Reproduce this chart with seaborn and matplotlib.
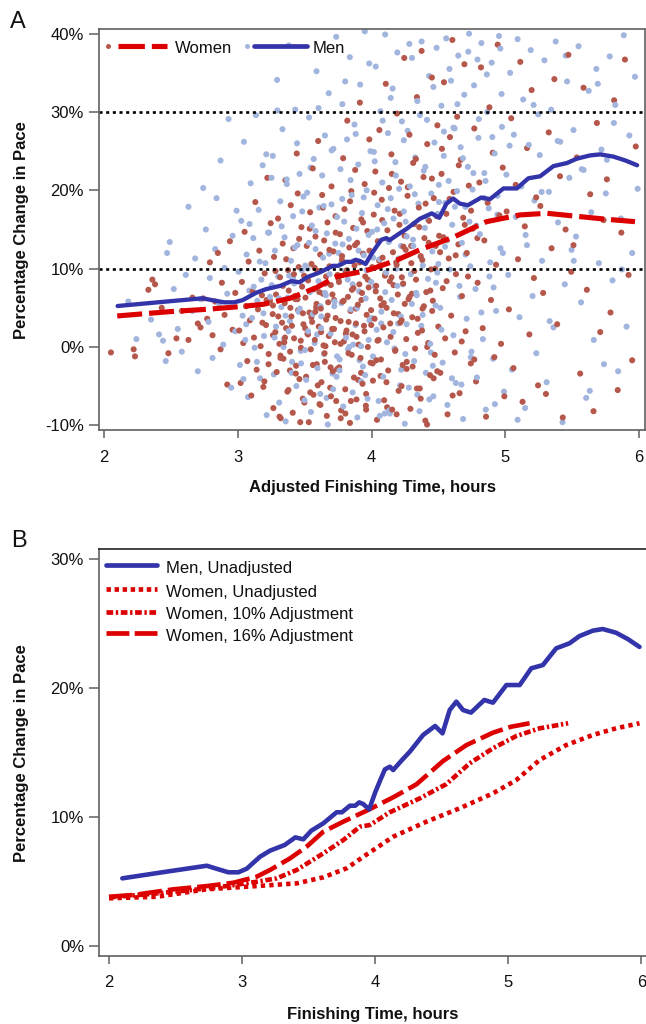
import matplotlib
matplotlib.use("Agg")
import matplotlib.pyplot as plt
from matplotlib.lines import Line2D
import pandas as pd
import seaborn as sns

# ---------------- data ----------------
# Panel A scatter, women (red points)
women_x = [2.05, 2.22, 2.23,
           2.33, 2.36, 2.38, 2.43, 2.48,
           2.54, 2.58, 2.63, 2.66, 2.70, 2.72, 2.74,
           2.77, 2.79, 2.81, 2.83, 2.85, 2.87, 2.88, 2.90, 2.92, 2.94, 2.96, 2.98,
           3.01, 3.02, 3.03, 3.04, 3.05, 3.06, 3.07, 3.08, 3.09, 3.10, 3.11, 3.12, 3.13, 3.14, 3.15, 3.16,
           3.17, 3.18, 3.19, 3.20, 3.21, 3.22, 3.23, 3.24, 3.245,
           3.26, 3.265, 3.27, 3.28, 3.285, 3.29, 3.30, 3.31, 3.315, 3.32, 3.33, 3.335, 3.34, 3.35, 3.355,
           3.36, 3.37, 3.375, 3.38, 3.39, 3.395, 3.40, 3.41, 3.415, 3.42, 3.43, 3.435, 3.44, 3.45, 3.455,
           3.46, 3.47, 3.475, 3.48, 3.485, 3.49, 3.495, 3.262, 3.318, 3.447,
           3.505, 3.51, 3.515, 3.52, 3.525, 3.53, 3.535, 3.54, 3.545, 3.55, 3.555, 3.56, 3.565, 3.57,
           3.575, 3.58, 3.585, 3.59, 3.595, 3.60, 3.605, 3.61, 3.615, 3.62, 3.625, 3.63, 3.635, 3.64,
           3.645, 3.65, 3.655, 3.66, 3.665, 3.67, 3.675, 3.68, 3.685, 3.69, 3.695, 3.70, 3.705, 3.71,
           3.715, 3.72, 3.725, 3.73, 3.735, 3.745,
           3.752, 3.757, 3.763, 3.768, 3.772, 3.778, 3.783, 3.787, 3.792, 3.797,
           3.803, 3.808, 3.812, 3.818, 3.823, 3.827, 3.833, 3.838, 3.842, 3.848,
           3.853, 3.857, 3.862, 3.868, 3.872, 3.877, 3.883, 3.887, 3.892, 3.897,
           3.903, 3.908, 3.912, 3.917, 3.923, 3.928, 3.932, 3.937, 3.943, 3.948,
           3.952, 3.957, 3.963, 3.968, 3.972, 3.978, 3.983, 3.992,
           4.004, 4.010, 4.016, 4.022, 4.028, 4.034, 4.040, 4.046, 4.052, 4.058,
           4.064, 4.070, 4.076, 4.082, 4.088, 4.094, 4.100, 4.106, 4.112, 4.118,
           4.124, 4.130, 4.136, 4.142, 4.148, 4.154, 4.160, 4.166, 4.172, 4.178,
           4.184, 4.190, 4.196, 4.202, 4.208, 4.214, 4.220, 4.226, 4.232, 4.238,
           4.244, 4.248,
           4.255, 4.262, 4.269, 4.276, 4.283, 4.290, 4.297, 4.304, 4.311, 4.318,
           4.325, 4.332, 4.339, 4.346, 4.353, 4.360, 4.367, 4.374, 4.381, 4.388,
           4.395, 4.402, 4.409, 4.416, 4.423, 4.430, 4.437, 4.444, 4.451, 4.458,
           4.465, 4.472, 4.479, 4.492,
           4.505, 4.514, 4.523, 4.532, 4.541, 4.550, 4.559, 4.568, 4.577, 4.586,
           4.595, 4.604, 4.613, 4.622, 4.631, 4.640, 4.649, 4.658, 4.667, 4.676,
           4.685, 4.694, 4.703, 4.712, 4.727, 4.742,
           4.756, 4.768, 4.781, 4.793, 4.806, 4.818, 4.831, 4.843, 4.856, 4.868,
           4.881, 4.893, 4.906, 4.918, 4.931, 4.943, 4.956, 4.968, 4.981, 4.993,
           5.010, 5.027, 5.044, 5.061, 5.078, 5.095, 5.112, 5.129, 5.146, 5.163,
           5.180, 5.197, 5.214, 5.231, 5.245,
           5.262, 5.283, 5.304, 5.325, 5.346, 5.367, 5.388, 5.409, 5.430, 5.451, 5.472, 5.493,
           5.510, 5.535, 5.560, 5.585, 5.610, 5.635, 5.660, 5.685, 5.710, 5.735,
           5.760, 5.787, 5.814, 5.841, 5.868, 5.895, 5.922, 5.949, 5.976]
women_y = [-0.7, -0.3, -1.2,
           7.3, 8.6, 8.0, 5.0, -0.8,
           1.1, 4.6, 0.9, 6.3, 3.0, 2.5, 6.2,
           3.6, 10.8, 1.5, 5.8, 12.0, -0.3, 8.2, 4.1, -4.8, 13.5, 2.2, 6.9,
           2.1, -4.6, 8.3, 0.5, 14.7, 5.2, -1.8, 10.9, 3.4, -6.2, 7.1, 1.2, 18.5, -2.9, 4.8, 12.3,
           0.1, 6.6, -5.1, 9.4, 2.8, 21.6, -0.9, 5.9, 15.8,
           4.2, -7.8, 11.5, 1.9, 6.7, -3.2, 16.4, 0.4, 8.9, -9.1, 3.1, 13.2, -1.5, 5.6, 21.3,
           2.4, -5.7, 9.8, 7.2, -0.6, 18.1, 3.9, -8.4, 12.6, 1.1, 6.1, -2.4, 24.7, 4.7, 10.2,
           -4.1, 0.8, 15.3, 7.7, -6.6, 2.9, 9.1, 5.3, -1.1, 19.6,
           6.3, -3.8, 12.9, 1.7, 8.5, -9.6, 4.4, 17.2, -0.3, 10.6, 3.2, 22.8, -6.1, 7.4,
           0.9, 14.1, 5.1, -2.2, 9.7, 26.3, 2.6, -7.3, 11.8, 4.9, -4.5, 19.4, 6.8, 0.2,
           13.6, -1.9, 8.1, 3.5, -8.8, 15.9, 5.7, 1.4, 10.3, -5.2, 7.9, 20.5, 2.3, -3.1,
           12.2, 6.0, 0.6, 16.7, -6.9, 9.2,
           8.7, -2.6, 14.4, 3.3, -8.1, 11.1, 5.8, 24.1, 0.7, 17.6,
           -5.4, 9.5, 2.1, 28.9, 6.4, -0.8, 12.7, -9.7, 4.6, 19.9,
           7.3, 1.6, 15.2, -3.9, 10.4, 22.6, 3.0, -6.7, 13.3, 5.4,
           0.3, 8.0, 31.2, -1.4, 16.3, 6.9, -4.7, 11.9, 2.7, 20.8,
           9.0, -7.5, 4.1, 14.8, 0.0, 7.6, 26.5, -2.0,
           10.2, -4.3, 16.9, 3.6, 22.4, 7.8, -9.3, 13.5, 0.9, 27.7,
           6.2, -1.6, 18.8, 11.4, 2.5, -6.8, 9.1, 33.6, 5.0, 14.9,
           -3.0, 20.3, 8.4, 1.3, 24.6, -8.0, 12.1, 4.3, 17.4, -0.4,
           10.8, 29.8, 6.7, -5.6, 15.6, 3.1, 21.1, 8.9, -2.3, 12.8,
           36.9, 5.5,
           12.4, -2.8, 19.3, 6.1, 27.1, -7.9, 10.7, 3.8, 23.5, 15.7,
           -0.2, 8.6, 31.9, 1.8, 17.8, -5.3, 11.6, 37.8, 4.9, 21.7,
           13.9, -9.4, 7.0, 25.9, 0.5, 16.1, -3.6, 9.9, 34.4, 5.9,
           19.0, -1.0, 12.9, 28.3,
           14.2, -3.3, 22.1, 7.5, 33.8, 1.1, 17.0, -8.6, 11.3, 26.8,
           4.0, 39.2, 19.8, -0.7, 9.3, 29.4, 13.1, -5.9, 23.9, 6.5,
           16.5, 36.1, 2.0, 12.0, 20.6, -2.1,
           15.1, 27.9, -4.4, 8.2, 21.0, 35.7, 2.4, 13.6, -8.9, 18.4,
           30.6, 6.0, 24.8, -1.3, 10.5, 38.6, 16.8, 0.4, 22.9, -6.3,
           17.3, 4.8, 29.2, -2.7, 20.7, 11.2, 36.4, -7.0, 15.4, 25.4,
           1.6, 32.8, 8.8, 19.1, -4.9,
           18.0, 6.9, -6.0, 27.4, 12.6, 34.2, 2.9, 21.8, -9.0, 15.0, 37.3, 9.6,
           13.0, 24.2, -3.4, 33.1, 7.3, 19.5, -8.2, 28.6, 1.9, 16.2,
           21.4, 4.4, 31.5, -5.5, 14.6, 36.7, 9.2, -1.7, 25.6]

# extra women points in the dense core of the cloud
women_core_x = [3.302, 3.318, 3.336, 3.347, 3.361, 3.378, 3.392, 3.404, 3.419, 3.433,
                3.446, 3.458, 3.471, 3.486, 3.497, 3.512, 3.524, 3.537, 3.549, 3.561,
                3.574, 3.588, 3.597, 3.609, 3.622, 3.636, 3.648, 3.659, 3.671, 3.684,
                3.696, 3.707, 3.719, 3.731, 3.743, 3.756, 3.768, 3.779, 3.791, 3.804,
                3.816, 3.828, 3.839, 3.851, 3.864, 3.876, 3.887, 3.899, 3.911, 3.924,
                3.936, 3.947, 3.959, 3.971, 3.984, 3.996, 4.008, 4.019, 4.031, 4.044,
                4.056, 4.067, 4.079, 4.091, 4.104, 4.116, 4.127, 4.139, 4.151, 4.164,
                4.176, 4.187, 4.199, 4.211, 4.224, 4.236, 4.247, 4.259, 4.271, 4.284,
                4.296, 4.307, 4.319, 4.331, 4.344, 4.356, 4.367, 4.379, 4.391, 4.404,
                4.416, 4.427, 4.439, 4.451, 4.464, 4.476, 4.487, 4.499, 4.512, 4.526,
                3.311, 3.352, 3.389, 3.427, 3.466, 3.503, 3.541, 3.579, 3.617, 3.655,
                3.693, 3.731, 3.769, 3.807, 3.845, 3.883, 3.921, 3.959, 3.997, 4.035,
                4.073, 4.111, 4.149, 4.187, 4.225, 4.263, 4.301, 4.339, 4.377, 4.415,
                4.453, 4.491, 4.538, 4.561, 4.583, 4.606, 4.629, 4.652, 4.674, 4.697,
                3.262, 3.281, 3.229, 3.214, 3.198, 3.183, 4.721, 4.744, 4.768, 4.791]
women_core_y = [3.9, -1.4, 7.8, 0.6, 11.2, -5.5, 5.0, 2.7, 9.3, -3.4,
                6.1, 13.8, -0.1, 4.3, -7.1, 8.8, 1.6, 15.1, 3.8, -2.3,
                10.1, 5.5, -4.9, 7.0, 1.9, 17.8, -0.8, 9.0, 4.0, 12.4,
                -6.3, 6.7, 2.3, 14.6, -2.8, 8.3, 0.4, 11.6, 5.9, -8.5,
                9.8, 3.2, 18.6, -1.0, 7.5, 13.0, 1.3, -4.2, 10.8, 6.0,
                15.9, 2.0, -6.0, 8.6, 12.3, 4.7, -2.1, 19.7, 7.1, 0.8,
                11.0, -3.7, 16.2, 5.6, 9.4, -7.7, 13.6, 3.0, 22.1, 7.9,
                -0.5, 10.5, 4.2, 17.0, -5.0, 8.1, 14.2, 1.0, 20.4, 6.4,
                12.9, -2.5, 9.7, 24.0, 3.6, 15.3, -6.6, 11.1, 5.2, 18.3,
                0.0, 13.3, 7.2, 21.5, -4.0, 10.0, 16.7, 2.6, 12.1, 25.3,
                -8.9, 1.2, -3.0, 6.5, -9.6, 2.4, -5.8, 4.5, -7.4, 0.1,
                -2.6, 3.7, -9.1, 1.7, -6.9, 4.9, -3.3, -8.0, 2.8, -1.7,
                5.3, -4.5, 8.9, -8.6, 3.4, -1.9, 6.8, -5.3, 2.1, -9.9,
                4.6, -3.1, 14.0, 8.4, 18.9, -6.2, 11.7, 23.2, 0.7, 15.6,
                1.5, 9.7, -2.2, 6.0, -4.4, 3.1, 9.0, 17.4, -1.6, 13.9]

# Panel A scatter, men (blue points)
men_x = [2.18, 2.24,
         2.35, 2.41, 2.44, 2.46, 2.47, 2.49,
         2.52, 2.55, 2.58, 2.61, 2.63, 2.66, 2.68, 2.70, 2.72, 2.74,
         2.76, 2.78, 2.79, 2.81, 2.83, 2.84, 2.86, 2.87, 2.89, 2.90, 2.92, 2.93, 2.95, 2.96, 2.98, 2.99,
         3.005, 3.015, 3.025, 3.035, 3.045, 3.055, 3.065, 3.075, 3.085, 3.095,
         3.105, 3.115, 3.125, 3.135, 3.145, 3.155, 3.165, 3.175, 3.185, 3.195,
         3.205, 3.215, 3.225, 3.240,
         3.253, 3.261, 3.269, 3.277, 3.285, 3.293, 3.301, 3.309, 3.317, 3.325,
         3.333, 3.341, 3.349, 3.357, 3.365, 3.373, 3.381, 3.389, 3.397, 3.405,
         3.413, 3.421, 3.429, 3.437, 3.445, 3.453, 3.461, 3.469, 3.477, 3.490,
         3.504, 3.511, 3.518, 3.525, 3.532, 3.539, 3.546, 3.553, 3.560, 3.567,
         3.574, 3.581, 3.588, 3.595, 3.602, 3.609, 3.616, 3.623, 3.630, 3.637,
         3.644, 3.651, 3.658, 3.665, 3.672, 3.679, 3.686, 3.693, 3.700, 3.707,
         3.714, 3.721, 3.728, 3.735, 3.742, 3.748,
         3.753, 3.760, 3.767, 3.774, 3.781, 3.788, 3.795, 3.802, 3.809, 3.816,
         3.823, 3.830, 3.837, 3.844, 3.851, 3.858, 3.865, 3.872, 3.879, 3.886,
         3.893, 3.900, 3.907, 3.914, 3.921, 3.928, 3.935, 3.942, 3.949, 3.956,
         3.963, 3.970, 3.977, 3.984, 3.991, 3.997, 3.780, 3.910,
         4.003, 4.010, 4.017, 4.024, 4.031, 4.038, 4.045, 4.052, 4.059, 4.066,
         4.073, 4.080, 4.087, 4.094, 4.101, 4.108, 4.115, 4.122, 4.129, 4.136,
         4.143, 4.150, 4.157, 4.164, 4.171, 4.178, 4.185, 4.192, 4.199, 4.206,
         4.213, 4.220, 4.227, 4.234, 4.241, 4.248,
         4.254, 4.262, 4.270, 4.278, 4.286, 4.294, 4.302, 4.310, 4.318, 4.326,
         4.334, 4.342, 4.350, 4.358, 4.366, 4.374, 4.382, 4.390, 4.398, 4.406,
         4.414, 4.422, 4.430, 4.438, 4.446, 4.454, 4.462, 4.470, 4.478, 4.486,
         4.494, 4.499,
         4.504, 4.513, 4.522, 4.531, 4.540, 4.549, 4.558, 4.567, 4.576, 4.585,
         4.594, 4.603, 4.612, 4.621, 4.630, 4.639, 4.648, 4.657, 4.666, 4.675,
         4.684, 4.693, 4.702, 4.711, 4.720, 4.729, 4.738, 4.747,
         4.755, 4.766, 4.777, 4.788, 4.799, 4.810, 4.821, 4.832, 4.843, 4.854,
         4.865, 4.876, 4.887, 4.898, 4.909, 4.920, 4.931, 4.942, 4.953, 4.964,
         4.975, 4.990,
         5.008, 5.022, 5.036, 5.050, 5.064, 5.078, 5.092, 5.106, 5.120, 5.134,
         5.148, 5.162, 5.176, 5.190, 5.204, 5.218, 5.232, 5.246,
         5.258, 5.275, 5.292, 5.309, 5.326, 5.343, 5.360, 5.377, 5.394, 5.411,
         5.428, 5.445, 5.462, 5.479, 5.496,
         5.510, 5.529, 5.548, 5.567, 5.586, 5.605, 5.624, 5.643, 5.662, 5.681,
         5.700, 5.719, 5.738,
         5.760, 5.781, 5.802, 5.823, 5.844, 5.865, 5.886, 5.907, 5.928, 5.949, 5.970, 5.990]
men_y = [5.8, 1.0,
         3.5, 1.6, 0.8, -1.8, 12.0, 13.4,
         7.4, 2.3, -0.6, 9.2, 17.9, 4.6, 11.3, -3.1, 6.1, 20.3,
         15.0, 3.2, 8.8, -1.4, 12.5, 19.0, 5.5, 23.8, 0.3, 10.1, 6.8, 29.1, -5.2, 14.2, 2.0, 17.4,
         9.6, -2.3, 16.1, 4.0, 26.2, 0.9, 11.8, -6.4, 7.2, 20.9,
         3.7, 13.9, -0.1, 29.6, 5.9, 17.5, -4.0, 8.6, 23.2, 1.4,
         10.7, -8.7, 14.6, 6.4,
         7.9, 24.4, -3.5, 12.3, 2.6, 34.1, 9.0, -7.1, 18.6, 5.1,
         27.8, 0.0, 14.0, -9.5, 21.4, 6.3, 38.5, 3.3, 11.0, -1.9,
         16.7, 8.1, 30.3, -5.0, 13.0, 4.5, 22.1, -0.5, 9.8, 19.2,
         10.4, -4.2, 19.7, 2.0, 29.3, 7.0, -8.3, 15.5, 4.2, 24.0,
         0.5, 12.5, 35.2, -2.7, 8.4, 17.8, -6.0, 3.9, 21.9, 11.4,
         -0.9, 27.0, 6.6, 14.5, -9.9, 32.4, 9.3, 1.7, 18.2, -3.4,
         25.3, 5.2, 13.2, 39.6, -1.2, 8.9,
         12.0, -3.0, 22.7, 5.6, 31.0, -7.6, 16.0, 9.7, 1.2, 26.5,
         -0.3, 13.8, 37.0, 4.8, 19.4, -5.8, 10.9, 28.4, 2.8, 15.1,
         -9.0, 23.3, 7.1, 33.5, 0.1, 17.1, -2.5, 11.7, 40.3, 6.2,
         20.0, -6.6, 14.3, 3.4, 25.0, 8.3, 18.9, -1.7,
         14.7, -1.2, 24.9, 7.7, 35.8, 2.2, 18.1, -6.9, 11.2, 30.1,
         4.5, 21.0, -3.8, 15.8, 39.9, 9.5, 0.6, 27.3, 13.4, -8.5,
         19.0, 6.0, 33.0, 16.4, -0.2, 23.6, 10.0, 37.6, 3.0, 20.2,
         -4.9, 12.9, 28.8, 8.0, 17.3, -9.8,
         16.0, 2.9, 27.6, -5.2, 20.5, 9.3, 36.9, 13.7, -1.8, 24.2,
         6.9, 31.4, 18.3, -8.2, 11.5, 39.0, 4.1, 22.5, 15.2, -3.3,
         29.0, 8.7, 34.6, 0.4, 19.6, 12.2, -6.3, 26.1, 5.3, 38.2,
         17.0, 10.6,
         18.5, 5.0, 30.8, -2.0, 24.4, 12.8, 39.4, -7.4, 21.2, 9.9,
         34.0, 15.6, 1.5, 27.9, -4.6, 19.9, 37.2, 7.8, 25.5, 13.3,
         -9.2, 32.2, 17.9, 3.6, 23.0, 40.0, 10.3, -0.6,
         20.1, 33.4, 7.4, -3.9, 26.7, 14.4, 38.8, 1.0, 22.2, -8.0,
         30.0, 17.7, 10.8, 36.3, -1.5, 24.7, 4.6, 19.3, 39.7, 12.6,
         28.1, -5.7,
         22.0, 9.2, 35.0, -2.9, 27.1, 16.6, 39.3, 3.8, 20.5, 31.6,
         -7.8, 13.0, 25.8, 37.9, 6.5, 18.7, -0.8, 29.7,
         24.5, 11.0, 36.6, -4.5, 19.8, 30.3, 2.5, 39.0, 15.9, 26.2,
         -9.6, 8.0, 33.9, 21.6, 12.4,
         27.7, 14.1, 38.4, 5.7, 22.6, -6.5, 32.7, 17.2, 0.9, 35.5,
         10.7, 25.2, -2.2,
         23.9, 37.1, 8.5, 30.9, -3.1, 16.4, 39.8, 2.6, 27.0, 12.0, 34.5, 20.2]

# extra men points in the dense core of the cloud
men_core_x = [3.306, 3.327, 3.344, 3.366, 3.383, 3.401, 3.424, 3.442, 3.463, 3.481,
              3.502, 3.521, 3.543, 3.562, 3.581, 3.603, 3.622, 3.641, 3.663, 3.682,
              3.701, 3.723, 3.742, 3.761, 3.783, 3.802, 3.821, 3.843, 3.862, 3.881,
              3.903, 3.922, 3.941, 3.963, 3.982, 4.001, 4.023, 4.042, 4.061, 4.083,
              4.102, 4.121, 4.143, 4.162, 4.181, 4.203, 4.222, 4.241, 4.263, 4.282,
              4.301, 4.323, 4.342, 4.361, 4.383, 4.402, 4.421, 4.443, 4.462, 4.481,
              4.503, 4.522, 4.541, 4.563, 4.582, 4.601, 4.623, 4.642, 4.661, 4.683,
              4.702, 4.723, 4.742, 4.761, 4.783, 4.802, 4.821, 4.843, 4.862, 4.881,
              4.903, 4.922, 4.941, 4.963, 4.982, 3.251, 3.274, 3.295, 3.233, 3.212,
              3.356, 3.412, 3.472, 3.532, 3.592, 3.652, 3.712, 3.772, 3.832, 3.892,
              3.952, 4.012, 4.072, 4.132, 4.192, 4.252, 4.312, 4.372, 4.432, 4.492,
              4.552, 4.612, 4.672, 4.732, 4.792, 4.852, 4.912, 4.972, 5.032, 5.092,
              5.152, 5.212, 5.272, 5.332, 5.392, 5.452, 5.512, 5.572, 5.632, 5.692,
              3.191, 3.163, 3.142, 3.118, 3.087, 3.062, 3.041, 5.752, 5.812, 5.872,
              3.378, 3.498, 3.618, 3.738, 3.858, 3.978, 4.098, 4.218, 4.338, 4.458]
men_core_y = [6.2, 15.4, 1.0, 20.8, 9.1, -3.3, 12.7, 26.0, 4.9, 17.3,
              -0.4, 10.0, 22.9, 7.3, 14.8, 30.5, 2.4, 18.0, -6.5, 11.9,
              25.1, 5.8, 16.6, -1.6, 13.1, 33.9, 8.6, 21.3, 0.3, 27.2,
              12.3, -4.4, 19.1, 9.8, 36.2, 3.7, 23.7, 15.0, -8.8, 28.9,
              7.0, 17.6, 31.8, 1.9, 21.9, 11.3, -2.9, 26.4, 14.1, 38.7,
              5.5, 19.5, -6.1, 29.6, 10.4, 23.0, 16.3, -0.7, 33.2, 8.2,
              20.7, 2.2, 27.5, 13.6, 35.5, -4.0, 17.9, 31.0, 6.4, 24.1,
              11.8, 37.7, -1.3, 22.2, 15.5, 29.1, 4.4, 19.0, 34.8, 9.0,
              26.8, -7.3, 16.9, 38.1, 12.0, 21.6, 1.2, 30.2, 14.6, 24.6,
              4.0, 8.8, -2.1, 13.3, 1.6, 6.9, -5.4, 10.7, 0.0, 5.0,
              -3.6, 11.4, 3.0, -8.1, 7.8, -0.9, 12.9, 2.7, -6.7, 9.5,
              18.4, 28.0, -4.8, 16.0, 36.7, 21.2, 7.6, 32.3, 25.7, -9.3,
              14.3, 30.9, 19.8, 3.3, 26.3, 37.2, 11.0, 22.7, -5.6, 33.6,
              4.3, 10.9, -1.9, 7.7, 15.7, 2.9, -4.1, 19.6, 28.6, 9.9,
              2.0, -6.8, 5.2, -3.8, 8.0, 0.9, -8.5, 3.9, 6.6, -2.4]

# Smoothed curves
men_hours = [2.10, 2.40, 2.735, 2.80, 2.897, 2.972, 3.035, 3.135, 3.21, 3.32, 3.40, 3.46,
             3.52, 3.61, 3.71, 3.75, 3.81, 3.85, 3.88, 3.91, 3.955, 4.00, 4.04, 4.073,
             4.11, 4.135, 4.20, 4.26, 4.36, 4.45, 4.506, 4.56, 4.61, 4.66, 4.72, 4.82,
             4.885, 4.986, 5.086, 5.173, 5.26, 5.36, 5.46, 5.535, 5.635, 5.71, 5.81, 5.90, 5.986]
men_pct = [5.23, 5.70, 6.21, 6.00, 5.70, 5.70, 5.98, 6.91, 7.38, 7.82, 8.41, 8.26,
           8.93, 9.50, 10.36, 10.36, 10.87, 10.87, 11.13, 11.00, 10.59, 11.90, 12.90, 13.69,
           13.90, 13.64, 14.40, 15.06, 16.36, 17.06, 16.49, 18.30, 18.95, 18.30, 18.10, 19.08,
           18.87, 20.24, 20.24, 21.54, 21.79, 23.09, 23.48, 24.04, 24.46, 24.59, 24.30, 23.80, 23.20]

women_adj_hours = [2.097, 2.49, 2.766, 3.015, 3.19, 3.39, 3.59, 3.74, 3.89, 3.99,
                   4.19, 4.36, 4.61, 4.86, 5.11, 5.31, 5.56, 5.76, 5.97]
women_adj_pct = [3.96, 4.51, 4.81, 5.15, 5.45, 6.22, 7.60, 9.00, 9.50, 9.90,
                 11.10, 12.40, 14.00, 16.00, 16.86, 17.07, 16.64, 16.30, 16.00]

w_unadj_hours = [2.00, 2.36, 2.735, 3.11, 3.41, 3.61, 3.785, 3.93, 4.135, 4.385,
                 4.635, 4.885, 5.06, 5.236, 5.436, 5.635, 5.81, 5.986]
w_unadj_pct = [3.68, 3.80, 4.38, 4.63, 4.84, 5.31, 6.01, 7.04, 8.46, 9.63,
               10.67, 11.83, 12.86, 14.42, 15.58, 16.36, 16.88, 17.27]

w10_hours = [2.00, 2.30, 2.60, 2.90, 3.10, 3.26, 3.41, 3.61, 3.76, 3.885, 3.96,
             4.11, 4.335, 4.535, 4.71, 4.885, 5.06, 5.236, 5.45]
w10_pct = [3.75, 4.00, 4.30, 4.65, 4.95, 5.23, 5.88, 7.17, 8.20, 9.24, 9.37,
           10.36, 11.44, 12.55, 14.16, 15.33, 16.28, 16.88, 17.27]

w16_hours = [2.00, 2.185, 2.485, 2.735, 2.935, 3.11, 3.21, 3.36, 3.485, 3.61, 3.76,
             3.947, 4.135, 4.31, 4.51, 4.686, 4.885, 5.02, 5.16]
w16_pct = [3.80, 3.94, 4.38, 4.63, 4.89, 5.36, 5.88, 6.78, 7.69, 8.85, 9.63,
           10.54, 11.52, 12.53, 14.34, 15.58, 16.54, 17.00, 17.27]

x_ticks = [2, 3, 4, 5, 6]
x_ticklabels = ["2", "3", "4", "5", "6"]
a_yticks = [-10, 0, 10, 20, 30, 40]
a_yticklabels = ["-10%", "0%", "10%", "20%", "30%", "40%"]
b_yticks = [0, 10, 20, 30]
b_yticklabels = ["0%", "10%", "20%", "30%"]
ref_levels = [10, 30]
legend_a_labels = ["Women", "Men"]
legend_b_labels = ["Men, Unadjusted", "Women, Unadjusted",
                   "Women, 10% Adjustment", "Women, 16% Adjustment"]

# ---------------- style ----------------
sns.set_theme(style="white")
plt.rcParams["font.family"] = ["Liberation Sans", "DejaVu Sans"]
plt.rcParams["lines.scale_dashes"] = False

MEN = "#3434AA"
RED = "#DC0000"
RED_PT = "#B5574B"
BLUE_PT = "#A1B5DE"
SPINE = "#606060"

DASH_A = (18.0, 5.0)
DOTTED = (3.1, 3.0)
DASHDOT = (4.8, 1.9, 1.7, 1.9)
DASHED_B = (17.0, 4.3)

W, H = 646, 1024
fig = plt.figure(figsize=(W / 100, H / 100), dpi=100)
fig.patch.set_facecolor("white")


def fx(px):
    return px / W


def fy(py):
    return 1 - py / H


def rect(l, t, r, b):
    return [fx(l), fy(b), (r - l) / W, (b - t) / H]


axA = fig.add_axes(rect(99.3, 29.3, 645.0, 430.3))
axB = fig.add_axes(rect(99.3, 549.3, 646.0, 956.0))

# ---------------- panel A ----------------
all_w_x = women_x + women_core_x
all_w_y = women_y + women_core_y
all_m_x = men_x + men_core_x
all_m_y = men_y + men_core_y
scatter_df = pd.DataFrame({
    "hours": all_w_x + all_m_x,
    "pct": all_w_y + all_m_y,
    "group": ["Women"] * len(all_w_x) + ["Men"] * len(all_m_x),
}).sort_values("hours", kind="mergesort")
sns.scatterplot(data=scatter_df, x="hours", y="pct", hue="group",
                palette={"Women": RED_PT, "Men": BLUE_PT}, s=19, linewidth=0,
                legend=False, ax=axA, zorder=1)

for lvl in ref_levels:
    axA.axhline(lvl, color="black", lw=1.9, dashes=(2.2, 2.6), zorder=2)

sns.lineplot(x=women_adj_hours, y=women_adj_pct, ax=axA, color=RED, lw=3.7,
             estimator=None, sort=False, zorder=3)
axA.lines[-1].set_dashes(DASH_A)
sns.lineplot(x=men_hours, y=men_pct, ax=axA, color=MEN, lw=3.1,
             estimator=None, sort=False, zorder=4)

axA.set_xlim(1.963, 6.045)
axA.set_ylim(-10.64, 40.56)
axA.set_yticks(a_yticks)
axA.set_yticklabels(a_yticklabels)
axA.set_xlabel("Adjusted Finishing Time, hours", fontsize=12, fontweight="bold")
axA.set_ylabel("Percentage Change in Pace", fontsize=12, fontweight="bold")
axA.xaxis.set_label_coords(0.5, -0.124)
axA.yaxis.set_label_coords(-0.1297, 0.5)

# ---------------- panel B ----------------
sns.lineplot(x=w_unadj_hours, y=w_unadj_pct, ax=axB, color=RED, lw=3.3,
             estimator=None, sort=False)
axB.lines[-1].set_dashes(DOTTED)
sns.lineplot(x=w10_hours, y=w10_pct, ax=axB, color=RED, lw=3.3,
             estimator=None, sort=False)
axB.lines[-1].set_dashes(DASHDOT)
sns.lineplot(x=w16_hours, y=w16_pct, ax=axB, color=RED, lw=3.3,
             estimator=None, sort=False)
axB.lines[-1].set_dashes(DASHED_B)
sns.lineplot(x=men_hours, y=men_pct, ax=axB, color=MEN, lw=3.3,
             estimator=None, sort=False)

axB.set_xlim(1.927, 6.035)
axB.set_ylim(-0.80, 30.78)
axB.set_yticks(b_yticks)
axB.set_yticklabels(b_yticklabels)
axB.set_xlabel("Finishing Time, hours", fontsize=12, fontweight="bold")
axB.set_ylabel("Percentage Change in Pace", fontsize=12, fontweight="bold")
axB.xaxis.set_label_coords(0.5, -0.1254)
axB.yaxis.set_label_coords(-0.1295, 0.5)

# ---------------- shared axis styling ----------------
for ax in (axA, axB):
    ax.set_xticks(x_ticks)
    ax.set_xticklabels(x_ticklabels)
    ax.tick_params(axis="y", which="both", left=True, right=False, direction="out",
                   length=7, width=1.1, color=SPINE, pad=4, labelsize=12, labelcolor="#111111")
    ax.tick_params(axis="x", which="both", bottom=True, top=False, direction="out",
                   length=6, width=1.1, color=SPINE, pad=8, labelsize=12, labelcolor="#111111")
    for side in ("left", "bottom", "top", "right"):
        ax.spines[side].set_color(SPINE)
        ax.spines[side].set_linewidth(1.2)
    ax.xaxis.label.set_color("#111111")
    ax.yaxis.label.set_color("#111111")
    ax.grid(False)
axB.spines["right"].set_visible(False)
axB.spines["top"].set_color("#222222")

# ---------------- legends (drawn as figure artists) ----------------
yA = 45.5
fig.add_artist(Line2D([fx(108)], [fy(yA)], marker="o", ms=3.6, mec="none",
                      mfc=RED_PT, ls="none"))
fig.add_artist(Line2D([fx(118), fx(166.7)], [fy(yA), fy(yA)], color=RED, lw=3.7,
                      dashes=(19.0, 5.0)))
fig.text(fx(175), fy(53.3), legend_a_labels[0], fontsize=12, va="baseline", ha="left",
         color="#111111")
fig.add_artist(Line2D([fx(247)], [fy(yA)], marker="o", ms=3.6, mec="none",
                      mfc=BLUE_PT, ls="none"))
fig.add_artist(Line2D([fx(254), fx(307)], [fy(yA), fy(yA)], color=MEN, lw=3.4))
fig.text(fx(313), fy(53.3), legend_a_labels[1], fontsize=12, va="baseline", ha="left",
         color="#111111")

rows_b = [565.0, 589.3, 611.7, 633.3]
styles_b = [(MEN, None), (RED, (3.2, 2.6)), (RED, DASHDOT), (RED, (16.5, 3.8))]
for row, (col, dsh), lab in zip(rows_b, styles_b, legend_b_labels):
    ln = Line2D([fx(106), fx(157.3)], [fy(row), fy(row)], color=col, lw=3.4)
    if dsh is not None:
        ln.set_dashes(dsh)
    fig.add_artist(ln)
    fig.text(fx(165.7), fy(row + 7.5), lab, fontsize=12, va="baseline", ha="left",
             color="#111111")

# panel letters
fig.text(fx(10), fy(28.3), "A", fontsize=17, va="baseline", ha="left", color="#111111")
fig.text(fx(10.7), fy(546.7), "B", fontsize=17, va="baseline", ha="left", color="#111111")

fig.savefig("out.png", dpi=100, facecolor="white")
